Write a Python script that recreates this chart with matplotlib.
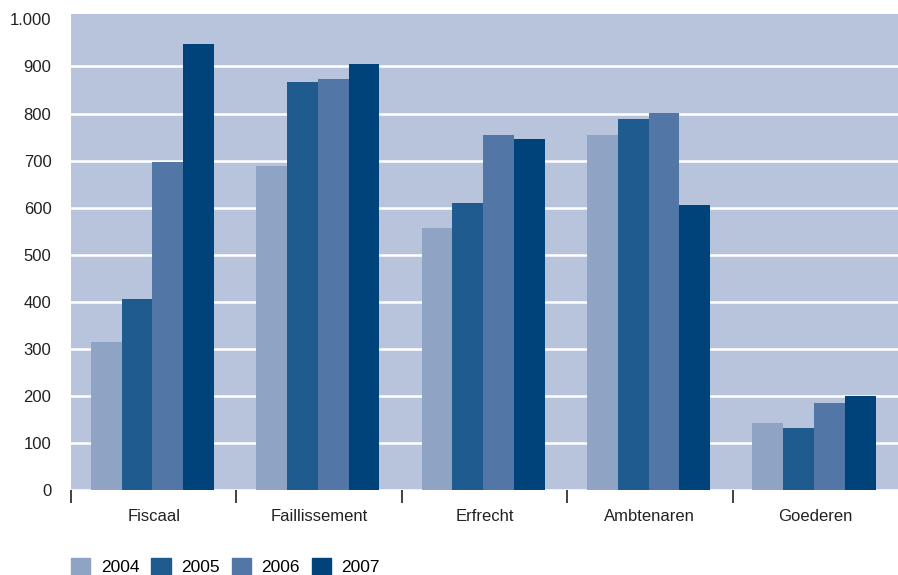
import numpy as np
import matplotlib.pyplot as plt
from matplotlib.patches import Patch

plt.rcParams['font.family'] = ['Liberation Sans', 'DejaVu Sans']

# Data
categories = ['Fiscaal', 'Faillissement', 'Erfrecht', 'Ambtenaren', 'Goederen']
years = ['2004', '2005', '2006', '2007']
values = {
    '2004': [315, 688, 557, 755, 142],
    '2005': [405, 868, 610, 788, 132],
    '2006': [698, 873, 755, 802, 185],
    '2007': [948, 905, 745, 605, 200],
}
yticks = [0, 100, 200, 300, 400, 500, 600, 700, 800, 900, 1000]
ytick_labels = ['0', '100', '200', '300', '400', '500', '600', '700', '800', '900', '1.000']

colors = ['#8fa3c4', '#1f5b8f', '#5276a5', '#00427a']

fig = plt.figure(figsize=(8.98, 5.75), dpi=100)
ax = fig.add_axes([0.079, 0.148, 0.921, 0.828])
ax.set_facecolor('#b8c4dc')

x = np.arange(len(categories))
w = 0.186
for i, yr in enumerate(years):
    ax.bar(x + (i - 1.5) * w - 0.008, values[yr], width=w, color=colors[i], zorder=3)

ax.set_xlim(-0.5, len(categories) - 0.5)
ax.set_ylim(0, 1012)
ax.set_yticks(yticks)
ax.set_yticklabels(ytick_labels, fontsize=12, color='#222222')
ax.yaxis.grid(True, color='white', linewidth=1.8, zorder=1)
ax.get_ygridlines()[-1].set_visible(False)
ax.set_axisbelow(True)
ax.tick_params(axis='y', length=0, pad=14)

# category labels at centers, tick marks at boundaries
ax.set_xticks(x)
ax.set_xticklabels(categories, fontsize=12, color='#222222')
ax.tick_params(axis='x', length=0, pad=14)
ax.set_xticks(np.arange(-0.5, len(categories) - 0.5, 1), minor=True)
ax.tick_params(axis='x', which='minor', length=9, width=1.3, color='#333333', direction='out')

for s in ax.spines.values():
    s.set_visible(False)

handles = [Patch(color=c) for c in colors]
fig.legend(handles, years, loc='lower left', bbox_to_anchor=(0.062, -0.028), ncol=4,
           frameon=False, fontsize=12.5, handlelength=1.1, handleheight=1.1,
           handletextpad=0.6, columnspacing=0.7)

fig.savefig('out.png', dpi=100)
